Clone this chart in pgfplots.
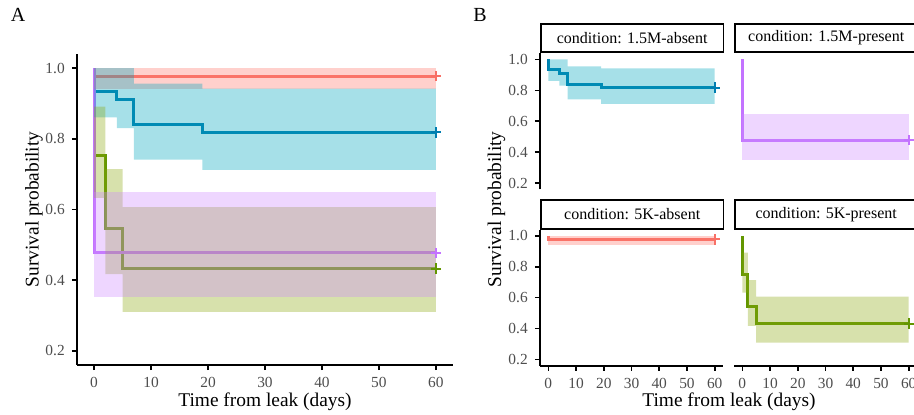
\documentclass[border=0pt]{standalone}
\usepackage{fontspec}
\setmainfont{Liberation Serif}
\usepackage{pgfplots}
\pgfplotsset{compat=1.18}
\definecolor{cred}{RGB}{248,112,102}
\definecolor{cblue}{RGB}{0,125,176}
\definecolor{cgreen}{RGB}{98,150,0}
\definecolor{cpurple}{RGB}{195,115,255}
\definecolor{fred}{RGB}{255,121,109}
\definecolor{fblue}{RGB}{0,166,190}
\definecolor{fgreen}{RGB}{140,168,16}
\definecolor{fpurple}{RGB}{206,138,255}
\definecolor{tickgray}{RGB}{77,77,77}
\pgfplotsset{
  km/.style={scale only axis, xmin=-3, xmax=63, ymin=0.16, ymax=1.04,
    xtick={0,10,...,60}, ytick={0.2,0.4,0.6,0.8,1.0},
    /pgf/number format/assume math mode=true,
    yticklabel style={/pgf/number format/.cd,fixed,fixed zerofill,precision=1},
    tick label style={font=\fontsize{7.7}{8}\selectfont, text=tickgray},
    tick align=outside, major tick length=2.6pt,
    tick style={black, line width=0.8pt},
    axis line style={black, line width=0.9pt, -}},
  band/.style={draw=none, fill opacity=0.35},
  surv/.style={const plot, line width=1.5pt, no marks},
  cens/.style={only marks, mark=+, mark size=2.6pt, mark options={line width=1pt}},
}
\tikzset{strip/.style={draw=black, line width=0.9pt, fill=white, minimum width=91.3pt,
    minimum height=14.3pt, inner sep=0pt, anchor=south west, font=\fontsize{8}{9}\selectfont}}
% data
\newcommand{\redband}{\addplot[band, fill=fred] coordinates {(0,1.0)(60,1.0)(60,0.942)(0,0.942)};}
\newcommand{\blueband}{\addplot[band, fill=fblue] coordinates {(0,1)(7,1)(7,0.956)(19,0.956)(19,0.942)(60,0.942)(60,0.712)(19,0.712)(19,0.741)(7,0.741)(7,0.830)(4,0.830)(4,0.861)(0,0.861)};}
\newcommand{\purpleband}{\addplot[band, fill=fpurple] coordinates {(0,0.650)(60,0.650)(60,0.352)(0,0.352)};}
\newcommand{\greenband}{\addplot[band, fill=fgreen] coordinates {(0,0.891)(2,0.891)(2,0.714)(5,0.714)(5,0.607)(60,0.607)(60,0.31)(5,0.31)(5,0.417)(2,0.417)(2,0.633)(0,0.633)};}
\newcommand{\redline}{\addplot[surv, cred] coordinates {(0,1)(0,0.977)(60,0.977)};
  \addplot[cens, cred] coordinates {(60,0.977)};}
\newcommand{\blueline}{\addplot[surv, cblue] coordinates {(0,1)(0,0.933)(4,0.912)(7,0.841)(19,0.818)(60,0.818)};
  \addplot[cens, cblue] coordinates {(60,0.818)};}
\newcommand{\purpleline}{\addplot[surv, cpurple] coordinates {(0,1)(0,0.477)(60,0.477)};
  \addplot[cens, cpurple] coordinates {(60,0.477)};}
\newcommand{\greenline}{\addplot[surv, cgreen] coordinates {(0,1)(0,0.752)(2,0.546)(5,0.433)(60,0.433)};
  \addplot[cens, cgreen] coordinates {(60,0.433)};}
\begin{document}
\begin{tikzpicture}
\path[use as bounding box] (0,0) rectangle (457pt,207.5pt);
% Panel A
\begin{axis}[km, at={(38.5pt,25pt)}, anchor=south west, width=188pt, height=155.5pt,
  axis x line*=bottom, axis y line*=left]
\redline \blueline \greenline \purpleline
\redband \blueband \greenband \purpleband
\end{axis}
\node[font=\fontsize{9.7}{11}\selectfont, rotate=90] at (17pt,102.75pt) {Survival probability};
\node[font=\fontsize{9.7}{11}\selectfont] at (132.5pt,6.8pt) {Time from leak (days)};
\node[font=\fontsize{10}{12}\selectfont] at (9pt,200pt) {A};
\node[font=\fontsize{10}{12}\selectfont] at (240pt,200pt) {B};
% Panel B top-left
\begin{axis}[km, name=tl, at={(270pt,112.85pt)}, anchor=south west, width=91.5pt, height=68pt,
  axis x line=none, axis y line*=left, xtick=\empty]
\blueline \blueband
\end{axis}
\node[strip] at (tl.north west) {condition: 1.5M-absent};
% top-right
\begin{axis}[km, name=tr, at={(367pt,112.85pt)}, anchor=south west, width=91.5pt, height=68pt,
  axis lines=none, xtick=\empty, ytick=\empty]
\purpleline \purpleband
\end{axis}
\node[strip] at (tr.north west) {condition: 1.5M-present};
% bottom-left
\begin{axis}[km, name=bl, at={(270pt,24.65pt)}, anchor=south west, width=91.5pt, height=68pt,
  axis x line*=bottom, axis y line*=left]
\redline \redband
\end{axis}
\node[strip] at (bl.north west) {condition: 5K-absent};
% bottom-right
\begin{axis}[km, name=br, at={(367pt,24.65pt)}, anchor=south west, width=91.5pt, height=68pt,
  axis x line*=bottom, axis y line=none, ytick=\empty]
\greenline \greenband
\end{axis}
\node[strip] at (br.north west) {condition: 5K-present};
\node[font=\fontsize{9.7}{11}\selectfont, rotate=90] at (248.3pt,102.9pt) {Survival probability};
\node[font=\fontsize{9.7}{11}\selectfont] at (364.5pt,6.8pt) {Time from leak (days)};
\end{tikzpicture}
\end{document}
